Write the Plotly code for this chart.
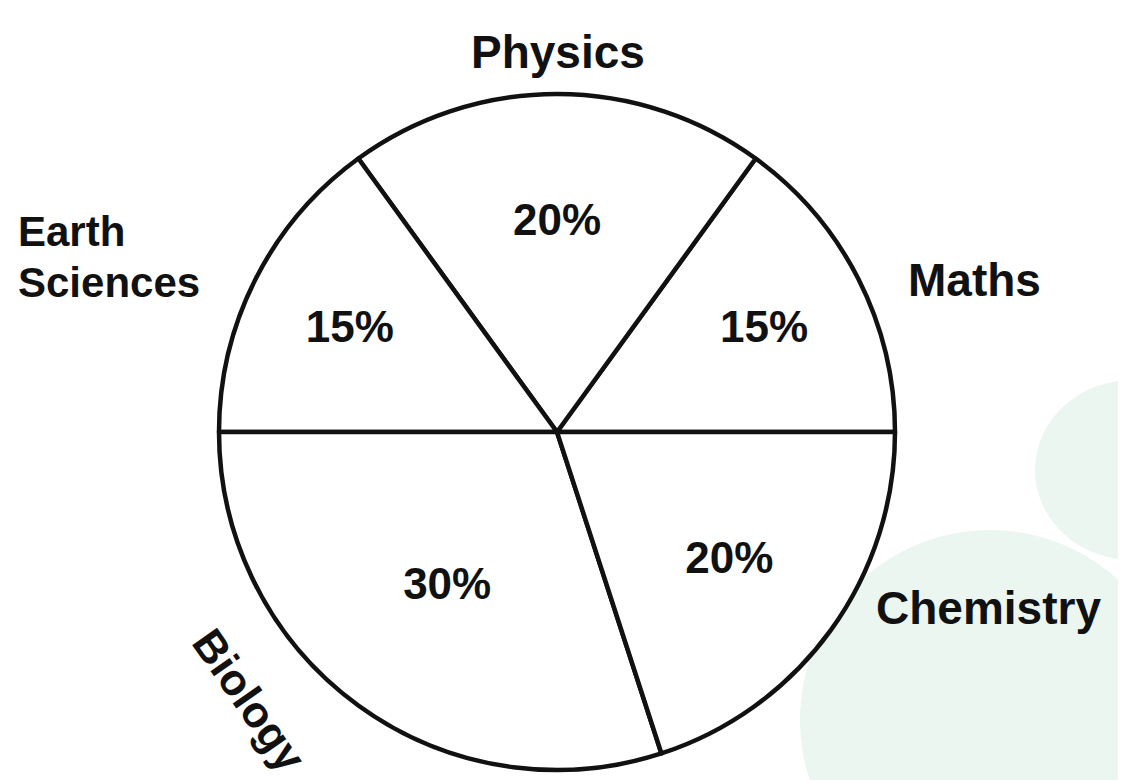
import plotly.graph_objects as go

subjects = ["Maths", "Physics", "Earth Sciences", "Biology", "Chemistry"]
shares = [15, 20, 15, 30, 20]
pct_labels = ["15%", "20%", "15%", "30%", "20%"]

# the page body adds an 8px margin, so the figure is sized to fill the window
W, H = 1118, 772
OFF = 8
ink = "#111111"


def px(x):
    return (x - OFF) / W


def py(y):
    return 1 - (y - OFF) / H


fig = go.Figure(
    data=[
        go.Pie(
            labels=subjects,
            values=shares,
            text=pct_labels,
            textinfo="text",
            textposition="inside",
            insidetextorientation="horizontal",
            textfont=dict(family="Liberation Sans", size=44, color=ink, weight="bold"),
            sort=False,
            direction="counterclockwise",
            rotation=36,
            marker=dict(colors=["white"] * 5, line=dict(color=ink, width=4.5)),
            domain=dict(x=[px(219), px(895)], y=[py(770), py(94)]),
            showlegend=False,
            hoverinfo="label+text",
        )
    ]
)

# outer labels as annotations in paper coordinates
outer = [
    ("Physics", 558, 52, 0, "center", 46),
    ("Maths", 975, 280, 0, "center", 46),
    ("Earth", 16, 232, 0, "left", 42),
    ("Sciences", 16, 283, 0, "left", 42),
    ("Chemistry", 988, 608, 0, "center", 46),
    ("Biology", 250, 700, 55, "center", 44),
]
for txt, x, y, ang, al, fs in outer:
    fig.add_annotation(
        x=px(x), y=py(y),
        xref="paper", yref="paper",
        xanchor=al, yanchor="middle",
        text="<b>" + txt + "</b>", showarrow=False, textangle=ang,
        font=dict(family="Liberation Sans", size=fs, color=ink),
    )

# faint watermark blobs behind the chart
fig.add_shape(type="circle", xref="paper", yref="paper", layer="below",
              x0=px(800), x1=px(1180), y0=py(910), y1=py(530),
              line=dict(width=0), fillcolor="#ebf6f1")
fig.add_shape(type="circle", xref="paper", yref="paper", layer="below",
              x0=px(1035), x1=px(1230), y0=py(560), y1=py(380),
              line=dict(width=0), fillcolor="#ebf6f1")

fig.update_layout(
    width=W, height=H,
    margin=dict(l=0, r=0, t=0, b=0),
    paper_bgcolor="white",
    plot_bgcolor="white",
)

fig.write_html("out.html")
